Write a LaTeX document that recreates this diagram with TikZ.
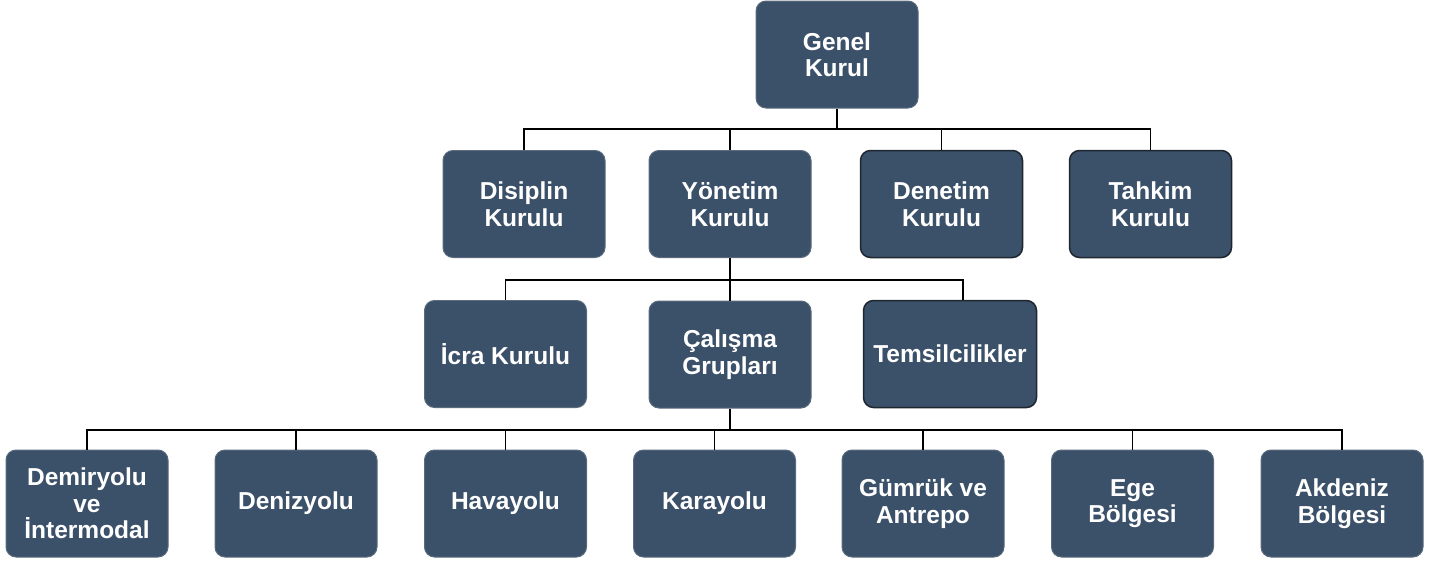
\documentclass[tikz,border=0pt]{standalone}
\usepackage{fontspec}
\setmainfont{Liberation Sans}
\definecolor{boxfill}{HTML}{3B5069}
\definecolor{boxline}{HTML}{5A6B7E}
\definecolor{darkline}{HTML}{1E2630}
\begin{document}
\begin{tikzpicture}[x=1pt,y=-1pt,
  unit/.style={draw=boxline, line width=1pt, fill=boxfill, rounded corners=10pt,
    minimum width=162pt, minimum height=107pt, text=white, align=center,
    font=\fontsize{24.5}{26.5}\selectfont\bfseries, inner sep=2pt},
  darkunit/.style={unit, draw=darkline, line width=1.5pt},
  link/.style={draw=black, line width=1.5pt}]
\useasboundingbox (0,0) rectangle (1446,562);
% level 1
\node[unit] (gk) at (837,54.5) {Genel\\Kurul};
% level 2
\node[unit] (dk) at (524,204) {Disiplin\\Kurulu};
\node[unit] (yk) at (730,204) {Yönetim\\Kurulu};
\node[darkunit] (de) at (941.5,204) {Denetim\\Kurulu};
\node[darkunit] (tk) at (1150.5,204) {Tahkim\\Kurulu};
% level 3
\node[unit] (ik) at (505.5,354) {İcra Kurulu};
\node[unit] (cg) at (730,354.5) {Çalışma\\Grupları};
\node[darkunit, minimum width=173pt] (tm) at (950,354) {Temsilcilikler};
% level 4
\node[unit] (dm) at (87,503.5) {Demiryolu\\ve\\İntermodal};
\node[unit] (dz) at (296,503.5) {Denizyolu};
\node[unit] (hv) at (505.5,503.5) {Havayolu};
\node[unit] (ky) at (714.5,503.5) {Karayolu};
\node[unit] (gm) at (923,503.5) {Gümrük ve\\Antrepo};
\node[unit] (eg) at (1132.5,503.5) {Ege\\Bölgesi};
\node[unit] (ak) at (1342,503.5) {Akdeniz\\Bölgesi};
% bus coordinates
\coordinate (b1) at (837,129);
\coordinate (b2) at (730,280);
\coordinate (b3) at (730,430);
% connectors level 1 -> 2
\draw[link] (gk.south) -- (b1);
\foreach \n in {dk,yk,de,tk} \draw[link] (b1) -| (\n.north);
% level 2 -> 3
\draw[link] (yk.south) -- (b2);
\draw[link] (b2) -| (ik.north);
\draw[link] (b2) -- (cg.north);
\draw[link] (b2) -| ([xshift=13pt]tm.north);
% level 3 -> 4
\draw[link] (cg.south) -- (b3);
\foreach \n in {dm,dz,hv,ky,gm,eg,ak} \draw[link] (b3) -| (\n.north);
\end{tikzpicture}
\end{document}
